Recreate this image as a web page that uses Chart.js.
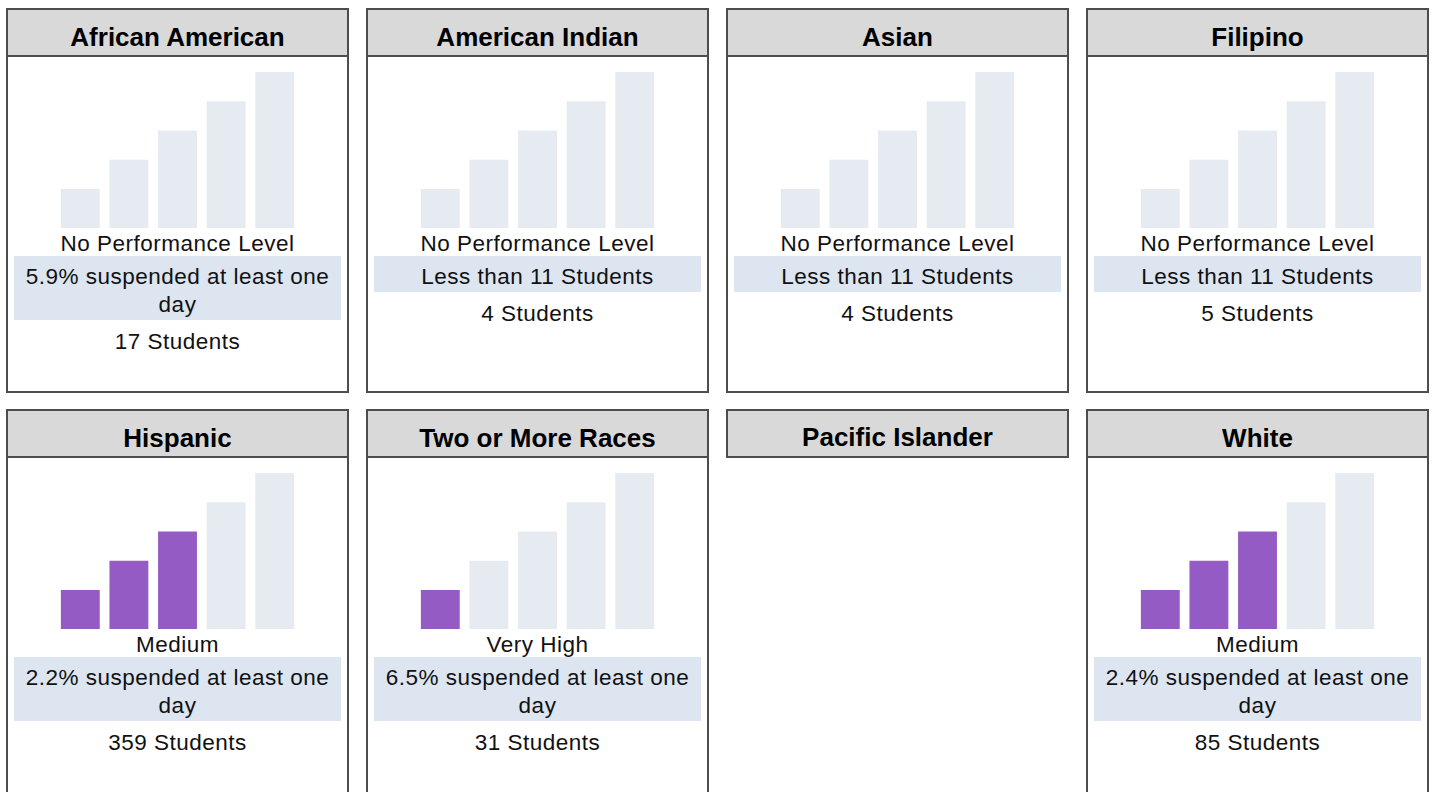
<!DOCTYPE html>
<html>
<head>
<meta charset="utf-8">
<script src="https://cdn.jsdelivr.net/npm/chart.js@4"></script>
<style>
  body { margin: 0; background: #fff; font-family: "Liberation Sans", Arial, sans-serif; color: #111; }
  .panel { position: absolute; width: 343px; box-sizing: border-box; border: 2px solid #4d4d4d; }
  .panel.empty { border: none; }
  .head { height: 47px; box-sizing: border-box; background: #d9d9d9; border-bottom: 2px solid #4d4d4d; text-align: center; font-weight: bold; font-size: 26px; line-height: 54px; overflow: hidden; color: #000; }
  .panel.empty .head { border: 2px solid #4d4d4d; height: 49px; line-height: 52px; }
  .plot { height: 171px; position: relative; }
  .plot canvas { position: absolute; left: 48px; bottom: 0; }
  .txt { text-align: center; font-size: 22.5px; letter-spacing: 0.5px; line-height: 28px; }
  .lvl { position: relative; top: 2px; }
  .band { background: #dce5f0; margin: 0 6px; padding: 7px 0 1px 0; }
  .count { margin-top: 8px; }
</style>
</head>
<body>
<div id="root"></div>
<script>
const groups = ['African American', 'American Indian', 'Asian', 'Filipino', 'Hispanic', 'Two or More Races', 'Pacific Islander', 'White'];
const levels = ['No Performance Level', 'No Performance Level', 'No Performance Level', 'No Performance Level', 'Medium', 'Very High', null, 'Medium'];
const filled = [0, 0, 0, 0, 3, 1, null, 3];
const rates = ['5.9% suspended at least one day', 'Less than 11 Students', 'Less than 11 Students', 'Less than 11 Students',
  '2.2% suspended at least one day', '6.5% suspended at least one day', null, '2.4% suspended at least one day'];
const students = [17, 4, 4, 5, 359, 31, null, 85];
const barLabels = ['Very High', 'High', 'Medium', 'Low', 'Very Low'];
const barHeights = [4, 7, 10, 13, 16];

const purple = '#955bc4';
const pale = '#e6eaf1';

const root = document.getElementById('root');

groups.forEach(function (name, i) {
    const row = Math.floor(i / 4);
    const panel = document.createElement('div');
    panel.className = 'panel';
    panel.style.left = (6 + (i % 4) * 360) + 'px';
    panel.style.top = (8 + row * 401) + 'px';
    panel.style.height = (row === 0 ? 385 : 400) + 'px';

    const head = document.createElement('div');
    head.className = 'head';
    head.textContent = name;
    panel.appendChild(head);
    root.appendChild(panel);

    if (levels[i] === null) {
        panel.classList.add('empty');
        return;
    }

    const plot = document.createElement('div');
    plot.className = 'plot';
    const canvas = document.createElement('canvas');
    canvas.width = 243;
    canvas.height = 156;
    plot.appendChild(canvas);
    panel.appendChild(plot);

    const lvl = document.createElement('div');
    lvl.className = 'txt lvl';
    lvl.textContent = levels[i];
    panel.appendChild(lvl);

    const band = document.createElement('div');
    band.className = 'txt band';
    band.textContent = rates[i];
    panel.appendChild(band);

    const cnt = document.createElement('div');
    cnt.className = 'txt count';
    cnt.textContent = students[i] + ' Students';
    panel.appendChild(cnt);

    new Chart(canvas.getContext('2d'), {
        type: 'bar',
        data: {
            labels: barLabels,
            datasets: [{
                data: barHeights,
                backgroundColor: barHeights.map(function (v, k) { return k < filled[i] ? purple : pale; }),
                borderWidth: 0,
                barPercentage: 0.8,
                categoryPercentage: 1
            }]
        },
        options: {
            responsive: false,
            animation: false,
            layout: { padding: 0 },
            plugins: { legend: { display: false }, tooltip: { enabled: false } },
            scales: {
                x: { display: false },
                y: { display: false, min: 0, max: 16 }
            }
        }
    });
});
</script>
</body>
</html>
